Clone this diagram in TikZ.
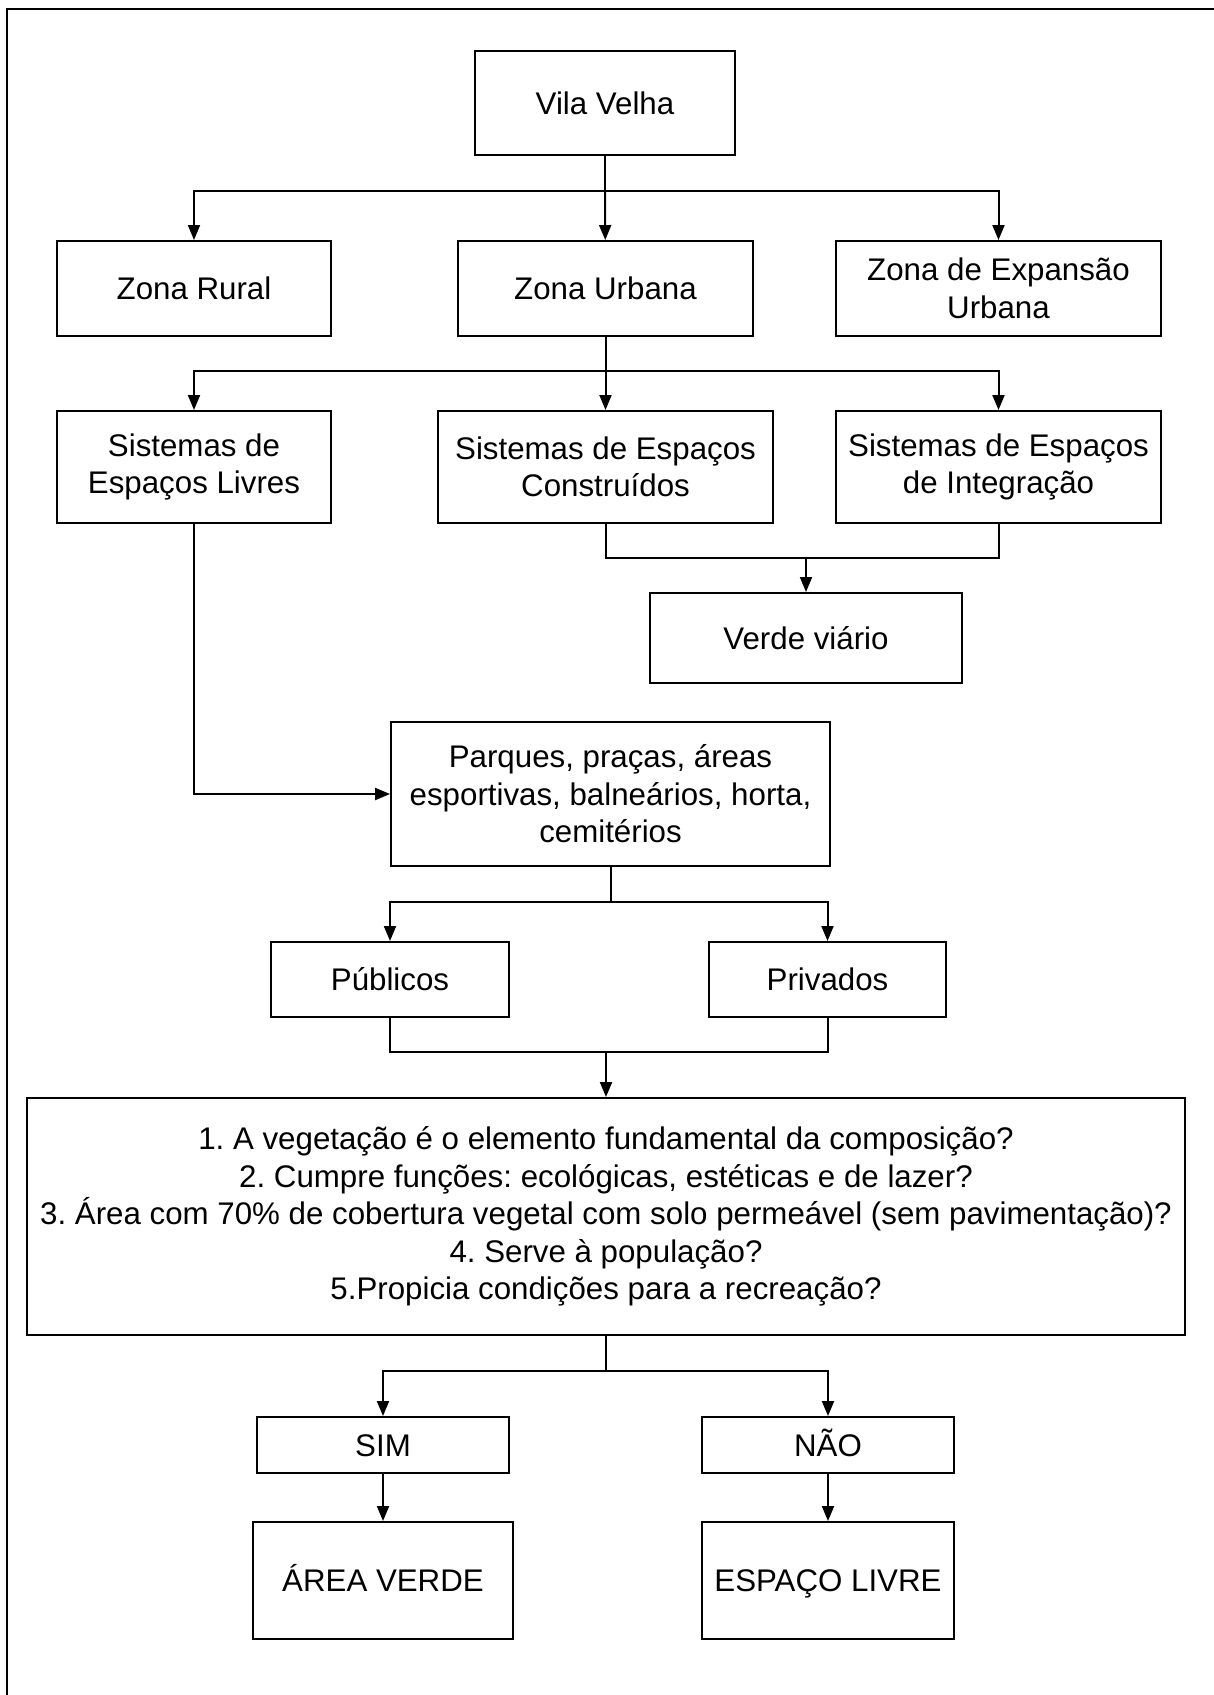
\documentclass[tikz,border=0pt]{standalone}
\usepackage{fontspec}
\setmainfont{Liberation Sans}
\frenchspacing
\usetikzlibrary{arrows.meta,positioning}
\tikzset{
  box/.style={draw=black,line width=0.04cm,fill=white,align=center,inner sep=2pt,font=\fontsize{17.8}{21.4}\selectfont},
  oneline/.style={text height=12.7pt,text depth=0pt},
  link/.style={draw=black,line width=0.04cm},
  arr/.style={-{Triangle[length=0.3cm,width=0.24cm]},draw=black,line width=0.04cm},
  frame/.style={draw=black,line width=0.05cm}
}
\begin{document}
\begin{tikzpicture}[x=0.02cm,y=-0.02cm]
\path[use as bounding box] (0,0) rectangle (1214,1695);
\draw[frame] (7,1695)--(7,9)--(1214,9);
\node[box,oneline,minimum width=5.2cm,minimum height=2.08cm] (vv) at (605,103) {Vila Velha};
\node[box,oneline,minimum width=5.48cm,minimum height=1.9cm] (rural) at (194,288.5) {Zona Rural};
\node[box,oneline,minimum width=5.9cm,minimum height=1.9cm] (urbana) at (605.5,288.5) {Zona Urbana};
\node[box,minimum width=6.5cm,minimum height=1.9cm] (expansao) at (998.5,288.5) {Zona de Expansão\\Urbana};
\node[box,minimum width=5.48cm,minimum height=2.24cm] (livres) at (194,467) {Sistemas de\\Espaços Livres};
\node[box,minimum width=6.7cm,minimum height=2.24cm] (construidos) at (605.5,467) {Sistemas de Espaços\\Construídos};
\node[box,minimum width=6.5cm,minimum height=2.24cm] (integracao) at (998.5,467) {Sistemas de Espaços\\de Integração};
\node[box,oneline,minimum width=6.24cm,minimum height=1.8cm] (viario) at (806,638) {Verde viário};
\node[box,minimum width=8.78cm,minimum height=2.88cm] (parques) at (610.5,794) {Parques, praças, áreas\\esportivas, balneários, horta,\\cemitérios};
\node[box,oneline,minimum width=4.76cm,minimum height=1.5cm] (publicos) at (390,979.5) {Públicos};
\node[box,oneline,minimum width=4.74cm,minimum height=1.5cm] (privados) at (827.5,979.5) {Privados};
\node[box,minimum width=23.16cm,minimum height=4.74cm] (criterios) at (606,1216.5) {1. A vegetação é o elemento fundamental da composição?\\2. Cumpre funções: ecológicas, estéticas e de lazer?\\3. Área com 70\% de cobertura vegetal com solo permeável (sem pavimentação)?\\4. Serve à população?\\5.Propicia condições para a recreação?};
\node[box,oneline,minimum width=5.04cm,minimum height=1.12cm] (sim) at (383,1445) {SIM};
\node[box,oneline,minimum width=5.04cm,minimum height=1.12cm] (nao) at (828,1445) {NÃO};
\node[box,oneline,minimum width=5.2cm,minimum height=2.34cm] (areaverde) at (383,1580.5) {ÁREA VERDE};
\node[box,oneline,minimum width=5.04cm,minimum height=2.34cm] (espacolivre) at (828,1580.5) {ESPAÇO LIVRE};
% junctions
\coordinate (j1) at (605,191);
\coordinate (j2) at (605.5,371);
\coordinate (j3) at (806,558);
\coordinate (j4) at (610.5,902);
\coordinate (j5) at (606,1052);
\coordinate (j6) at (606,1371);
\draw[link] (vv)--(j1);
\draw[arr] (j1)-|(rural); \draw[arr] (j1)--(urbana); \draw[arr] (j1)-|(expansao);
\draw[link] (urbana)--(j2);
\draw[arr] (j2)-|(livres); \draw[arr] (j2)--(construidos); \draw[arr] (j2)-|(integracao);
\draw[link] (construidos.south)|-(j3)-|(integracao.south);
\draw[arr] (j3)--(viario);
\draw[arr] (livres)|-(parques);
\draw[link] (parques)--(j4);
\draw[arr] (j4)-|(publicos); \draw[arr] (j4)-|(privados);
\draw[link] (publicos.south)|-(j5)-|(privados.south);
\draw[arr] (j5)--(criterios);
\draw[link] (criterios)--(j6);
\draw[arr] (j6)-|(sim); \draw[arr] (j6)-|(nao);
\draw[arr] (sim)--(areaverde); \draw[arr] (nao)--(espacolivre);
\end{tikzpicture}
\end{document}
